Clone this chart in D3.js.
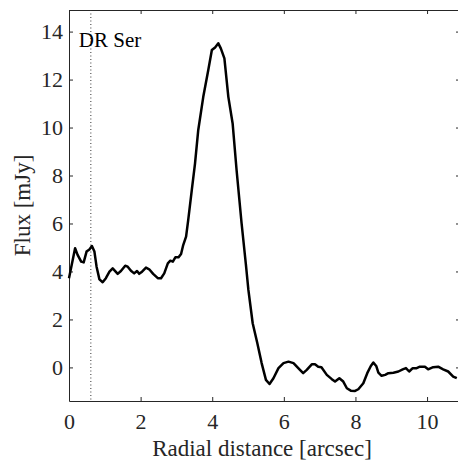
<!DOCTYPE html>
<html>
<head>
<meta charset="utf-8">
<script src="https://cdn.jsdelivr.net/npm/d3@7"></script>
<style>
  body { margin: 0; background: #fff; }
</style>
</head>
<body>
<div id="chart"></div>
<script>
// radial profile
const radius = [0, 0.17, 0.24, 0.34, 0.41, 0.49, 0.57, 0.64, 0.71, 0.77, 0.85, 0.94, 1.03, 1.13, 1.22, 1.36, 1.45, 1.57, 1.64, 1.73, 1.82, 1.9, 1.96, 2.04, 2.15, 2.24, 2.35, 2.48, 2.57, 2.66, 2.76, 2.83, 2.9, 2.97, 3.06, 3.13, 3.19, 3.27, 3.33, 3.43, 3.52, 3.61, 3.75, 3.89, 3.99, 4.08, 4.17, 4.24, 4.34, 4.45, 4.57, 4.68, 4.82, 4.94, 5.01, 5.13, 5.26, 5.38, 5.5, 5.6, 5.71, 5.85, 5.99, 6.13, 6.27, 6.45, 6.54, 6.64, 6.78, 6.87, 6.96, 7.05, 7.2, 7.34, 7.43, 7.55, 7.66, 7.76, 7.87, 7.99, 8.08, 8.22, 8.33, 8.43, 8.5, 8.58, 8.64, 8.73, 8.83, 8.92, 9.06, 9.2, 9.32, 9.41, 9.5, 9.6, 9.71, 9.8, 9.94, 10.03, 10.17, 10.31, 10.45, 10.59, 10.73, 10.83]
const flux = [3.72, 4.97, 4.69, 4.41, 4.38, 4.83, 4.92, 5.06, 4.83, 4.2, 3.67, 3.55, 3.72, 3.99, 4.13, 3.9, 4.02, 4.24, 4.2, 4.03, 3.92, 4.02, 3.9, 3.99, 4.16, 4.09, 3.9, 3.72, 3.72, 3.92, 4.34, 4.45, 4.41, 4.59, 4.59, 4.73, 5.1, 5.45, 6.15, 7.4, 8.51, 9.9, 11.28, 12.4, 13.23, 13.34, 13.51, 13.3, 12.88, 11.28, 10.17, 8.23, 6.01, 4.3, 3.23, 1.84, 1.01, 0.18, -0.52, -0.69, -0.45, -0.03, 0.18, 0.24, 0.18, -0.1, -0.24, -0.1, 0.13, 0.13, 0.03, 0.01, -0.31, -0.49, -0.59, -0.45, -0.59, -0.87, -0.97, -0.98, -0.91, -0.66, -0.24, 0.06, 0.2, 0.06, -0.22, -0.35, -0.31, -0.24, -0.22, -0.17, -0.08, -0.03, -0.17, -0.03, -0.03, 0.03, 0.03, -0.08, 0.01, 0.03, -0.08, -0.17, -0.38, -0.45]
const xTicks = [0, 2, 4, 6, 8, 10]
const yTicks = [0, 2, 4, 6, 8, 10, 12, 14]
const starPos = 0.61
const starName = "DR Ser"

const width = 458
const height = 462
const margin = {top: 10, right: -2, bottom: 61, left: 69}
const innerW = width - margin.left - margin.right
const innerH = height - margin.top - margin.bottom
const font = "Liberation Serif"
const axisColor = "#262626"

const svg = d3.select("#chart").append("svg")
    .attr("width", width)
    .attr("height", height)

const g = svg.append("g").attr("transform", `translate(${margin.left},${margin.top})`)

const x = d3.scaleLinear().domain([0, 10.92]).range([0, innerW])
const y = d3.scaleLinear().domain([-1.4, 14.9]).range([innerH, 0])

// axes with inward ticks on all four sides
const styleAxis = sel => {
  sel.attr("font-family", font)
  sel.select(".domain").attr("stroke", axisColor)
  sel.selectAll(".tick line").attr("stroke", axisColor)
  sel.selectAll(".tick text").attr("font-size", 22).attr("fill", axisColor).attr("font-family", font)
}

g.append("g").attr("transform", `translate(0,${innerH})`)
  .call(d3.axisBottom(x).tickValues(xTicks).tickSizeInner(-4).tickSizeOuter(0).tickPadding(12).tickFormat(d3.format("d")))
  .call(styleAxis)

g.append("g")
  .call(d3.axisTop(x).tickValues(xTicks).tickSizeInner(-4).tickSizeOuter(0).tickFormat(""))
  .call(styleAxis)

g.append("g")
  .call(d3.axisLeft(y).tickValues(yTicks).tickSizeInner(-4).tickSizeOuter(0).tickPadding(6).tickFormat(d3.format("d")))
  .call(styleAxis)

g.append("g").attr("transform", `translate(${innerW},0)`)
  .call(d3.axisRight(y).tickValues(yTicks).tickSizeInner(-4).tickSizeOuter(0).tickFormat(""))
  .call(styleAxis)

// star position
g.append("line")
  .attr("x1", x(starPos)).attr("x2", x(starPos))
  .attr("y1", 0).attr("y2", innerH)
  .attr("stroke", "#333")
  .attr("stroke-width", 1)
  .attr("stroke-dasharray", "1,2.5")

g.append("text")
  .attr("x", x(starPos) - 12)
  .attr("y", 37)
  .attr("font-family", font)
  .attr("font-size", 21)
  .attr("fill", "#000")
  .text(starName)

const line = d3.line()
  .x((d, i) => x(radius[i]))
  .y(d => y(d))

g.append("path")
  .datum(flux)
  .attr("d", line)
  .attr("fill", "none")
  .attr("stroke", "#000")
  .attr("stroke-width", 2.5)
  .attr("stroke-linejoin", "round")

// axis titles
svg.append("text")
  .attr("x", 262)
  .attr("y", 456)
  .attr("text-anchor", "middle")
  .attr("font-family", font)
  .attr("font-size", 23)
  .attr("fill", axisColor)
  .text("Radial distance [arcsec]")

svg.append("text")
  .attr("transform", `translate(30,${margin.top + innerH / 2}) rotate(-90)`)
  .attr("text-anchor", "middle")
  .attr("font-family", font)
  .attr("font-size", 23)
  .attr("fill", axisColor)
  .text("Flux [mJy]")
</script>
</body>
</html>
